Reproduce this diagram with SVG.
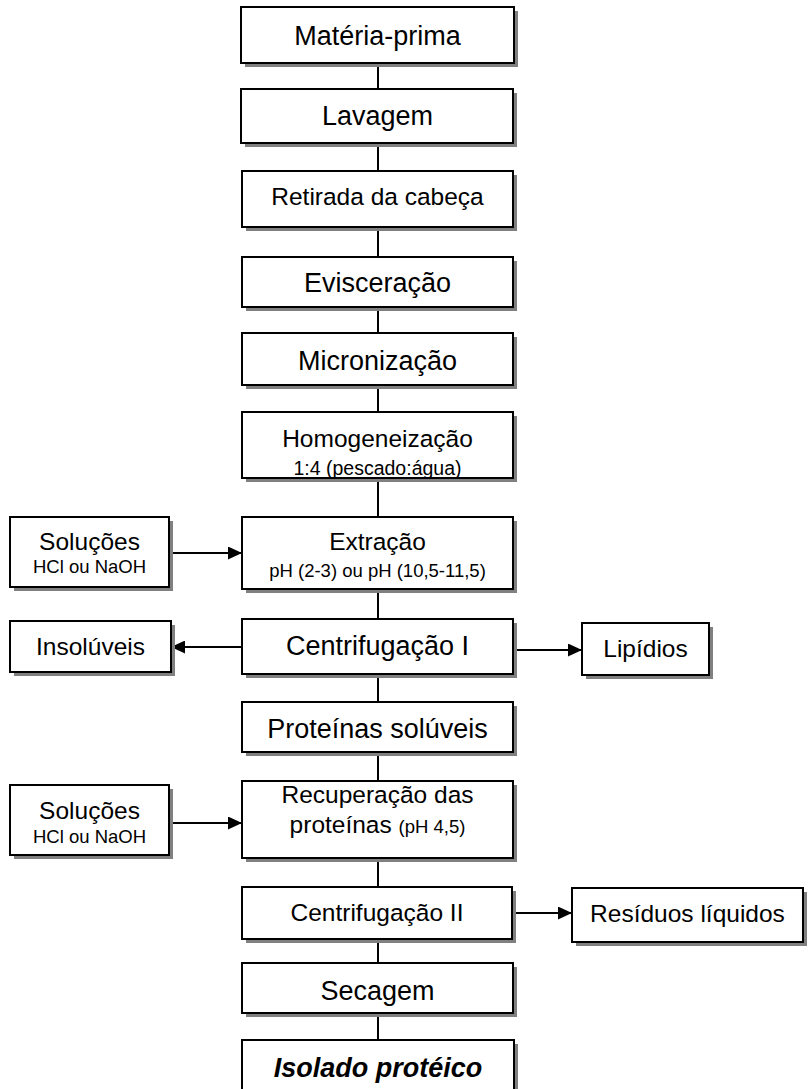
<svg xmlns="http://www.w3.org/2000/svg" width="809" height="1089" viewBox="0 0 809 1089">
<defs>
<marker id="ah" markerWidth="14" markerHeight="13" refX="14" refY="6.5" orient="auto" markerUnits="userSpaceOnUse">
<path d="M0,0 L14,6.5 L0,13 Z" fill="#000"/>
</marker>
</defs>
<style>
.sh{fill:#808080;stroke:none}
.bx{fill:#fff;stroke:#000;stroke-width:2}
.c{stroke:#000;stroke-width:2;fill:none}
.a{stroke:#000;stroke-width:2;fill:none;marker-end:url(#ah)}
text{font-family:"Liberation Sans",Arial,sans-serif;fill:#000;text-anchor:middle}
.L{font-size:27px}
.M{font-size:24.5px}
.S{font-size:18.5px}
</style>
<rect width="809" height="1089" fill="#fff"/>
<g id="connectors">
<line class="c" x1="378" y1="63" x2="378" y2="89"/>
<line class="c" x1="378" y1="143" x2="378" y2="171"/>
<line class="c" x1="378" y1="227" x2="378" y2="257"/>
<line class="c" x1="378" y1="307" x2="378" y2="333"/>
<line class="c" x1="378" y1="385" x2="378" y2="412"/>
<line class="c" x1="378" y1="478" x2="378" y2="517"/>
<line class="c" x1="378" y1="589" x2="378" y2="619"/>
<line class="c" x1="378" y1="674" x2="378" y2="702"/>
<line class="c" x1="378" y1="752" x2="378" y2="781"/>
<line class="c" x1="378" y1="858" x2="378" y2="887"/>
<line class="c" x1="378" y1="939" x2="378" y2="963"/>
<line class="c" x1="378" y1="1013" x2="378" y2="1040"/>
<line class="a" x1="173" y1="553" x2="242" y2="553"/>
<line class="a" x1="242" y1="647" x2="171" y2="647"/>
<line class="a" x1="517" y1="650" x2="582" y2="650"/>
<line class="a" x1="173" y1="823" x2="242" y2="823"/>
<line class="a" x1="516" y1="913" x2="572" y2="913"/>
</g>
<g id="n1"><rect class="sh" x="245" y="11" width="273" height="56"/><rect class="bx" x="241" y="7" width="273" height="56"/><text class="L" x="377.5" y="45">Matéria-prima</text></g>
<g id="n2"><rect class="sh" x="245" y="93" width="272" height="54"/><rect class="bx" x="241" y="89" width="272" height="54"/><text class="L" x="377.5" y="125">Lavagem</text></g>
<g id="n3"><rect class="sh" x="246" y="175" width="271" height="56"/><rect class="bx" x="242" y="171" width="271" height="56"/><text class="M" x="377.5" y="205">Retirada da cabeça</text></g>
<g id="n4"><rect class="sh" x="246" y="261" width="271" height="50"/><rect class="bx" x="242" y="257" width="271" height="50"/><text class="L" x="377.5" y="292">Evisceração</text></g>
<g id="n5"><rect class="sh" x="246" y="337" width="271" height="52"/><rect class="bx" x="242" y="333" width="271" height="52"/><text class="L" x="377.5" y="370">Micronização</text></g>
<g id="n6"><rect class="sh" x="246" y="416" width="271" height="66"/><rect class="bx" x="242" y="412" width="271" height="66"/><text class="M" x="377.5" y="447">Homogeneização</text><text x="377.5" y="475" style="font-size:19.5px">1:4 (pescado:água)</text></g>
<g id="n7"><rect class="sh" x="246" y="521" width="271" height="72"/><rect class="bx" x="242" y="517" width="271" height="72"/><text class="M" x="377.5" y="550">Extração</text><text class="S" x="377.5" y="577">pH (2-3) ou pH (10,5-11,5)</text></g>
<g id="n8"><rect class="sh" x="246" y="623" width="271" height="55"/><rect class="bx" x="242" y="619" width="271" height="55"/><text class="L" x="377.5" y="655">Centrifugação I</text></g>
<g id="n9"><rect class="sh" x="246" y="706" width="271" height="50"/><rect class="bx" x="242" y="702" width="271" height="50"/><text class="L" x="377.5" y="738">Proteínas solúveis</text></g>
<g id="n10"><rect class="sh" x="246" y="785" width="271" height="77"/><rect class="bx" x="242" y="781" width="271" height="77"/><text class="M" x="377.5" y="803">Recuperação das</text><text x="377.5" y="833"><tspan class="M">proteínas </tspan><tspan class="S">(pH 4,5)</tspan></text></g>
<g id="n11"><rect class="sh" x="246" y="891" width="270" height="52"/><rect class="bx" x="242" y="887" width="270" height="52"/><text class="M" x="377" y="921">Centrifugação II</text></g>
<g id="n12"><rect class="sh" x="246" y="967" width="271" height="50"/><rect class="bx" x="242" y="963" width="271" height="50"/><text class="L" x="377.5" y="1000">Secagem</text></g>
<g id="n13"><rect class="sh" x="246" y="1044" width="272" height="56"/><rect class="bx" x="242" y="1040" width="272" height="56"/><text class="L" x="378" y="1077" style="font-weight:bold;font-style:italic">Isolado protéico</text></g>
<g id="s1"><rect class="sh" x="14" y="521" width="159" height="70"/><rect class="bx" x="10" y="517" width="159" height="70"/><text class="M" x="89.5" y="550">Soluções</text><text class="S" x="89.5" y="573">HCl ou NaOH</text></g>
<g id="s2"><rect class="sh" x="14" y="625" width="161" height="51"/><rect class="bx" x="10" y="621" width="161" height="51"/><text class="M" x="90.5" y="655">Insolúveis</text></g>
<g id="s3"><rect class="sh" x="586" y="627" width="127" height="52"/><rect class="bx" x="582" y="623" width="127" height="52"/><text class="M" x="645.5" y="657">Lipídios</text></g>
<g id="s4"><rect class="sh" x="14" y="789" width="159" height="70"/><rect class="bx" x="10" y="785" width="159" height="70"/><text class="M" x="89.5" y="819">Soluções</text><text class="S" x="89.5" y="843">HCl ou NaOH</text></g>
<g id="s5"><rect class="sh" x="576" y="892" width="231" height="54"/><rect class="bx" x="572" y="888" width="231" height="54"/><text class="M" x="687.5" y="922">Resíduos líquidos</text></g>
</svg>
